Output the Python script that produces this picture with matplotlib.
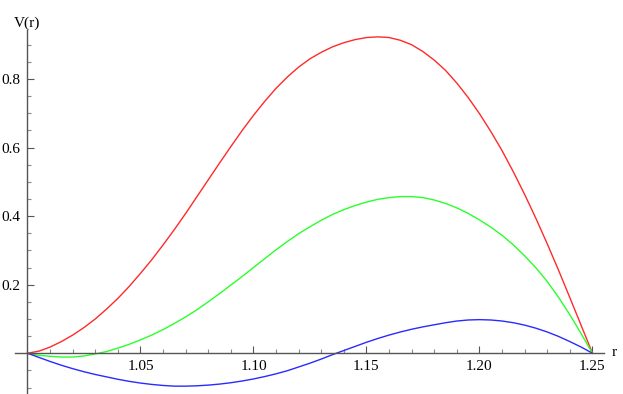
import numpy as np
import matplotlib
matplotlib.use("Agg")
from matplotlib import pyplot as plt
from matplotlib.ticker import MultipleLocator, FixedLocator

# values, every 0.005 in r
r = [1.000, 1.005, 1.010, 1.015, 1.020, 1.025, 1.030, 1.035, 1.040, 1.045,
     1.050, 1.055, 1.060, 1.065, 1.070, 1.075, 1.080, 1.085, 1.090, 1.095,
     1.100, 1.105, 1.110, 1.115, 1.120, 1.125, 1.130, 1.135, 1.140, 1.145,
     1.150, 1.155, 1.160, 1.165, 1.170, 1.175, 1.180, 1.185, 1.190, 1.195,
     1.200, 1.205, 1.210, 1.215, 1.220, 1.225, 1.230, 1.235, 1.240, 1.245,
     1.250]
v_red = [0.000, 0.006, 0.018, 0.034, 0.053, 0.075, 0.100, 0.129, 0.160, 0.195,
         0.233, 0.273, 0.316, 0.361, 0.408, 0.457, 0.506, 0.555, 0.603, 0.650,
         0.694, 0.735, 0.773, 0.806, 0.835, 0.859, 0.878, 0.894, 0.906, 0.915,
         0.921, 0.923, 0.921, 0.913, 0.900, 0.880, 0.855, 0.825, 0.788, 0.746,
         0.699, 0.647, 0.591, 0.529, 0.463, 0.393, 0.319, 0.242, 0.162, 0.081,
         0.000]
v_green = [0.000, -0.006, -0.009, -0.011, -0.011, -0.008, -0.002, 0.005, 0.015, 0.026,
           0.039, 0.053, 0.069, 0.087, 0.106, 0.127, 0.150, 0.174, 0.199, 0.224,
           0.250, 0.276, 0.302, 0.326, 0.349, 0.369, 0.388, 0.405, 0.419, 0.431,
           0.441, 0.449, 0.454, 0.457, 0.457, 0.454, 0.447, 0.437, 0.424, 0.408,
           0.389, 0.368, 0.344, 0.316, 0.284, 0.249, 0.209, 0.163, 0.112, 0.057,
           0.000]
v_blue = [0.000, -0.012, -0.024, -0.035, -0.045, -0.054, -0.062, -0.069, -0.076, -0.082,
          -0.087, -0.091, -0.094, -0.096, -0.096, -0.095, -0.093, -0.090, -0.086, -0.081,
          -0.075, -0.068, -0.060, -0.051, -0.040, -0.029, -0.017, -0.004, 0.008, 0.020,
          0.032, 0.043, 0.053, 0.062, 0.070, 0.077, 0.083, 0.089, 0.094, 0.097,
          0.098, 0.097, 0.094, 0.089, 0.082, 0.073, 0.062, 0.049, 0.034, 0.018,
          0.000]

xticks = [1.05, 1.10, 1.15, 1.20, 1.25]
yticks = [0.2, 0.4, 0.6, 0.8]

plt.rcParams['font.family'] = ['Liberation Serif', 'DejaVu Serif']

fig = plt.figure(figsize=(6.23, 3.94), dpi=100)
ax = fig.add_axes([15 / 623, 1 / 394, 589 / 623, 363 / 394])

ax.plot(r, v_red, color='#ff2a2a', lw=1.0)
ax.plot(r, v_green, color='#2aff2a', lw=1.0)
ax.plot(r, v_blue, color='#2a2aff', lw=1.0)

ax.set_xlim(0.99447, 1.2551)
ax.set_ylim(-0.116, 0.943)

axc = '#555555'
ax.spines['left'].set_position(('data', 1.0))
ax.spines['bottom'].set_position(('data', 0.0))
ax.spines['right'].set_visible(False)
ax.spines['top'].set_visible(False)
for s in ('left', 'bottom'):
    ax.spines[s].set_color(axc)
    ax.spines[s].set_linewidth(1.0)

ax.xaxis.set_major_locator(FixedLocator(xticks))
ax.xaxis.set_minor_locator(MultipleLocator(0.01))
ax.yaxis.set_major_locator(FixedLocator(yticks))
ax.yaxis.set_minor_locator(MultipleLocator(0.05))
ax.set_xticklabels(['%.2f' % t for t in xticks])
ax.set_yticklabels(['%.1f' % t for t in yticks])

ax.tick_params(which='major', direction='in', length=5, width=0.8, color=axc,
               labelsize=11, pad=5)
ax.tick_params(which='minor', direction='in', length=3, width=0.8, color='#888888')

ax.text(1.0, 1.0, 'V(r)', transform=ax.get_xaxis_transform(), fontsize=11,
        ha='center', va='bottom')
fig.text(612 / 623, 1 - 353 / 394, 'r', fontsize=11, ha='left', va='center')

fig.savefig('out.png', dpi=100)
